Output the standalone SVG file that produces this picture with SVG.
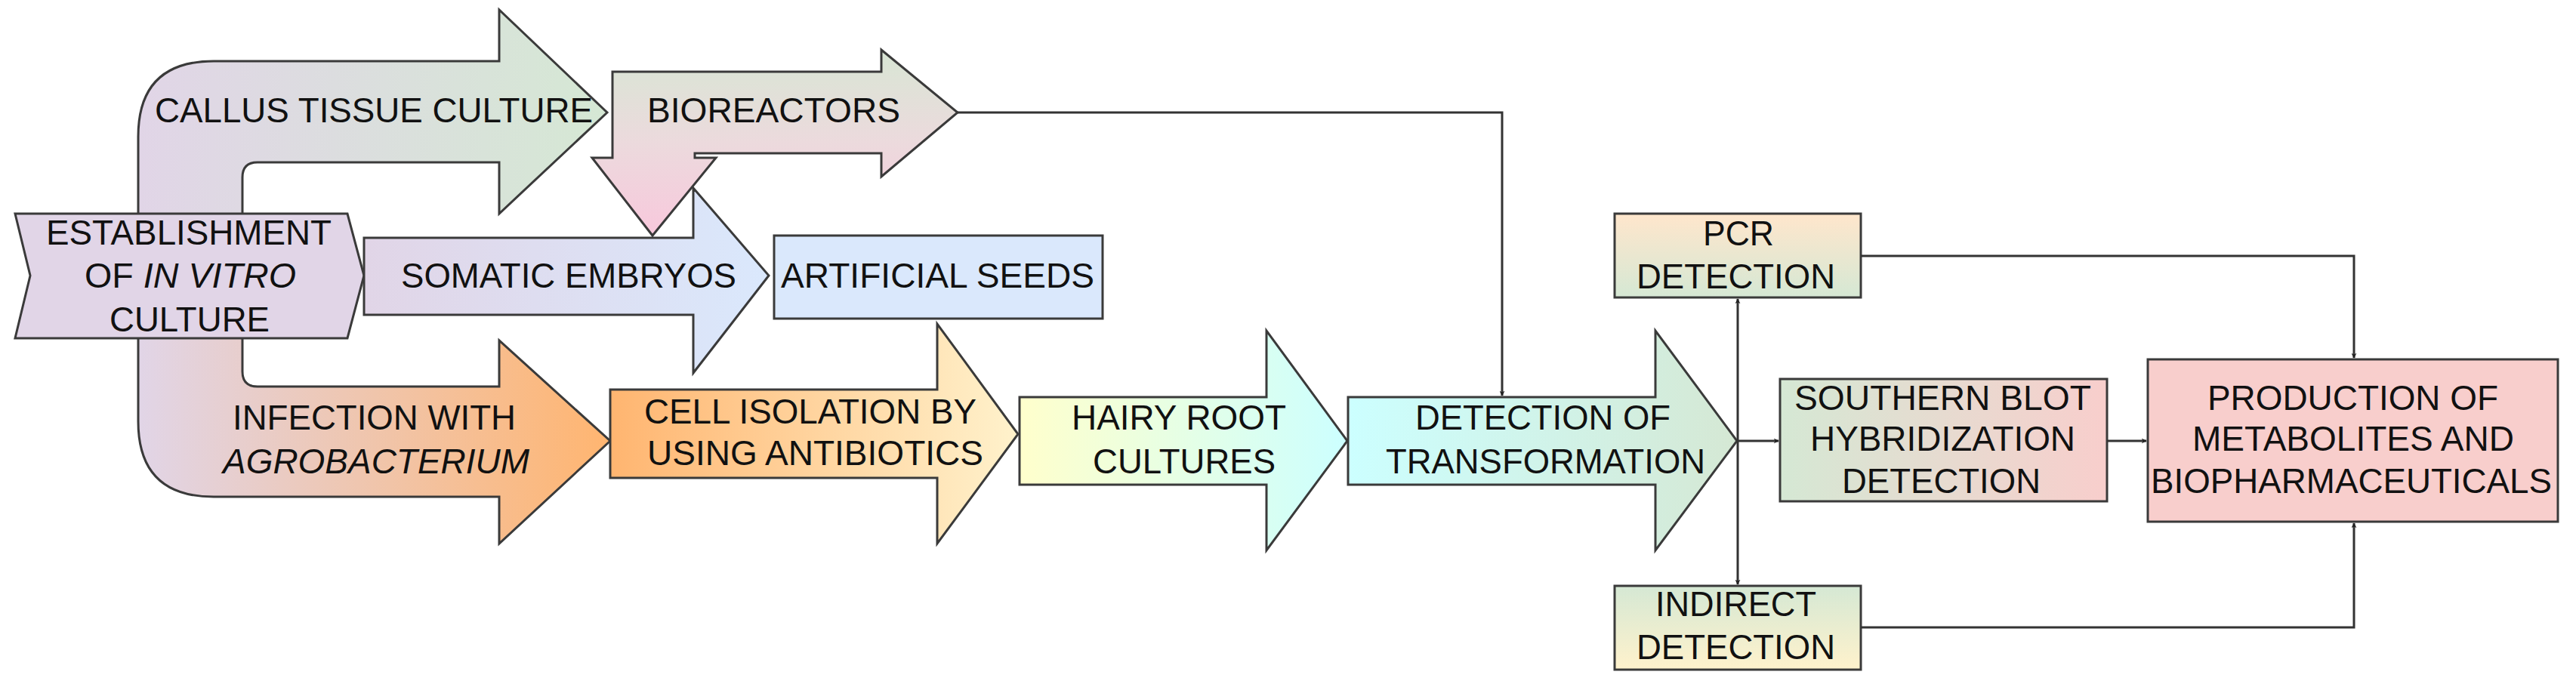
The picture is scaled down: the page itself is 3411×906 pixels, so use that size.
<svg xmlns="http://www.w3.org/2000/svg" width="3411" height="906" viewBox="0 0 3411 906">
<style>
.s{stroke:#3a3a3a;stroke-width:3;stroke-linejoin:miter}
.t{font-family:"Liberation Sans",Arial,sans-serif;font-size:46px;fill:#111;text-anchor:start}
.c{stroke:#333;stroke-width:3;fill:none}
</style>
<defs>
<linearGradient id="gTop" x1="183" y1="0" x2="804" y2="0" gradientUnits="userSpaceOnUse"><stop offset="0" stop-color="#e1d5e7"/><stop offset="1" stop-color="#d5e8d4"/></linearGradient>
<linearGradient id="gBot" x1="183" y1="0" x2="808" y2="0" gradientUnits="userSpaceOnUse"><stop offset="0" stop-color="#e1d5e7"/><stop offset="1" stop-color="#ffb570"/></linearGradient>
<linearGradient id="gSom" x1="0" y1="0" x2="1" y2="0"><stop offset="0" stop-color="#e1d5e7"/><stop offset="1" stop-color="#dae8fc"/></linearGradient>
<linearGradient id="gBio" x1="0" y1="0" x2="0" y2="1"><stop offset="0" stop-color="#d8e6d4"/><stop offset="0.5" stop-color="#ecdadd"/><stop offset="1" stop-color="#f8c8dc"/></linearGradient>
<linearGradient id="gCell" x1="0" y1="0" x2="1" y2="0"><stop offset="0" stop-color="#ffb570"/><stop offset="1" stop-color="#fff2cc"/></linearGradient>
<linearGradient id="gHair" x1="0" y1="0" x2="1" y2="0"><stop offset="0" stop-color="#ffffcc"/><stop offset="1" stop-color="#ccffff"/></linearGradient>
<linearGradient id="gDet" x1="0" y1="0" x2="1" y2="0"><stop offset="0" stop-color="#ccffff"/><stop offset="1" stop-color="#d5e8d4"/></linearGradient>
<linearGradient id="gPcr" x1="0" y1="0" x2="0" y2="1"><stop offset="0" stop-color="#ffe6cc"/><stop offset="1" stop-color="#d5e8d4"/></linearGradient>
<linearGradient id="gInd" x1="0" y1="0" x2="0" y2="1"><stop offset="0" stop-color="#d5e8d4"/><stop offset="1" stop-color="#fff2cc"/></linearGradient>
<linearGradient id="gSou" x1="0" y1="0" x2="1" y2="0"><stop offset="0" stop-color="#d5e8d4"/><stop offset="1" stop-color="#f8cecc"/></linearGradient>
<clipPath id="cTop"><rect x="0" y="0" width="900" height="370"/></clipPath>
<clipPath id="cBot"><rect x="0" y="370" width="900" height="536"/></clipPath>
<marker id="ah" viewBox="0 0 10 10" refX="9" refY="5" markerWidth="7" markerHeight="7" orient="auto-start-reverse" markerUnits="userSpaceOnUse"><path d="M0,0 L10,5 L0,10 L3,5 Z" fill="#222"/></marker>
</defs>
<rect width="3411" height="906" fill="#fff"/>

<g id="callus-infection">
<path id="bigp" d="M661,81 L661,13 L804,149 L661,283 L661,215 L341,215 Q321,215 321,235 L321,492 Q321,512 341,512 L661,512 L661,451 L808,584 L661,720 L661,658 L283,658 Q183,658 183,558 L183,181 Q183,81 283,81 Z" fill="url(#gTop)" clip-path="url(#cTop)"/>
<path d="M661,81 L661,13 L804,149 L661,283 L661,215 L341,215 Q321,215 321,235 L321,492 Q321,512 341,512 L661,512 L661,451 L808,584 L661,720 L661,658 L283,658 Q183,658 183,558 L183,181 Q183,81 283,81 Z" fill="url(#gBot)" clip-path="url(#cBot)"/>
<path class="s" fill="none" d="M661,81 L661,13 L804,149 L661,283 L661,215 L341,215 Q321,215 321,235 L321,492 Q321,512 341,512 L661,512 L661,451 L808,584 L661,720 L661,658 L283,658 Q183,658 183,558 L183,181 Q183,81 283,81 Z"/>
<text class="t" x="205" y="162" textLength="580" lengthAdjust="spacingAndGlyphs">CALLUS TISSUE CULTURE</text>
<text class="t" x="308" y="569" textLength="375" lengthAdjust="spacingAndGlyphs">INFECTION WITH</text>
<text class="t" x="295" y="627" textLength="406" lengthAdjust="spacingAndGlyphs" font-style="italic">AGROBACTERIUM</text>
</g>

<g id="establishment">
<path class="s" fill="#e1d5e7" d="M20,283 L460,283 L482,365 L460,448 L20,448 L40,365 Z"/>
<text class="t" x="61" y="324" textLength="378" lengthAdjust="spacingAndGlyphs">ESTABLISHMENT</text>
<text class="t" x="112" y="381" textLength="280" lengthAdjust="spacingAndGlyphs">OF <tspan font-style="italic">IN VITRO</tspan></text>
<text class="t" x="145" y="439" textLength="212" lengthAdjust="spacingAndGlyphs">CULTURE</text>
</g>

<g id="somatic">
<path class="s" fill="url(#gSom)" d="M482,315 L918,315 L918,249 L1018,365 L918,494 L918,417 L482,417 Z"/>
<text class="t" x="531" y="381" textLength="444" lengthAdjust="spacingAndGlyphs">SOMATIC EMBRYOS</text>
</g>

<g id="bioreactors">
<path class="s" fill="url(#gBio)" d="M811,95 L1167,95 L1167,66 L1268,149 L1167,234 L1167,203 L920,203 L920,209 L948,209 L864,312 L784,209 L811,209 Z"/>
<text class="t" x="857" y="162" textLength="335" lengthAdjust="spacingAndGlyphs">BIOREACTORS</text>
</g>

<g id="seeds">
<rect class="s" fill="#dae8fc" x="1025" y="312" width="435" height="110"/>
<text class="t" x="1034" y="381" textLength="415" lengthAdjust="spacingAndGlyphs">ARTIFICIAL SEEDS</text>
</g>

<g id="cell">
<path class="s" fill="url(#gCell)" d="M808,516 L1241,516 L1241,429 L1348,575 L1241,720 L1241,633 L808,633 Z"/>
<text class="t" x="853" y="561" textLength="440" lengthAdjust="spacingAndGlyphs">CELL ISOLATION BY</text>
<text class="t" x="857" y="616" textLength="445" lengthAdjust="spacingAndGlyphs">USING ANTIBIOTICS</text>
</g>

<g id="hairy">
<path class="s" fill="url(#gHair)" d="M1350,526 L1677,526 L1677,438 L1784,584 L1677,729 L1677,642 L1350,642 Z"/>
<text class="t" x="1419" y="569" textLength="284" lengthAdjust="spacingAndGlyphs">HAIRY ROOT</text>
<text class="t" x="1447" y="627" textLength="242" lengthAdjust="spacingAndGlyphs">CULTURES</text>
</g>

<g id="detection">
<path class="s" fill="url(#gDet)" d="M1785,526 L2192,526 L2192,438 L2300,584 L2192,729 L2192,642 L1785,642 Z"/>
<text class="t" x="1874" y="569" textLength="338" lengthAdjust="spacingAndGlyphs">DETECTION OF</text>
<text class="t" x="1835" y="627" textLength="423" lengthAdjust="spacingAndGlyphs">TRANSFORMATION</text>
</g>

<g id="pcr">
<rect class="s" fill="url(#gPcr)" x="2138" y="283" width="326" height="111"/>
<text class="t" x="2255" y="325" textLength="94" lengthAdjust="spacingAndGlyphs">PCR</text>
<text class="t" x="2167" y="382" textLength="263" lengthAdjust="spacingAndGlyphs">DETECTION</text>
</g>

<g id="indirect">
<rect class="s" fill="url(#gInd)" x="2138" y="776" width="326" height="111"/>
<text class="t" x="2192" y="816" textLength="213" lengthAdjust="spacingAndGlyphs">INDIRECT</text>
<text class="t" x="2167" y="873" textLength="263" lengthAdjust="spacingAndGlyphs">DETECTION</text>
</g>

<g id="southern">
<rect class="s" fill="url(#gSou)" x="2357" y="502" width="433" height="162"/>
<text class="t" x="2376" y="543" textLength="393" lengthAdjust="spacingAndGlyphs">SOUTHERN BLOT</text>
<text class="t" x="2397" y="597" textLength="351" lengthAdjust="spacingAndGlyphs">HYBRIDIZATION</text>
<text class="t" x="2439" y="653" textLength="263" lengthAdjust="spacingAndGlyphs">DETECTION</text>
</g>

<g id="production">
<rect class="s" fill="#f8cecc" x="2844" y="476" width="543" height="215"/>
<text class="t" x="2923" y="543" textLength="385" lengthAdjust="spacingAndGlyphs">PRODUCTION OF</text>
<text class="t" x="2903" y="597" textLength="426" lengthAdjust="spacingAndGlyphs">METABOLITES AND</text>
<text class="t" x="2848" y="653" textLength="531" lengthAdjust="spacingAndGlyphs">BIOPHARMACEUTICALS</text>
</g>

<g id="connectors">
<path class="c" d="M1268,149 L1989,149 L1989,524" marker-end="url(#ah)"/>
<path class="c" d="M2301,396 L2301,774" marker-start="url(#ah)" marker-end="url(#ah)"/>
<path class="c" d="M2300,584 L2355,584" marker-end="url(#ah)"/>
<path class="c" d="M2790,584 L2842,584" marker-end="url(#ah)"/>
<path class="c" d="M2464,339 L3117,339 L3117,474" marker-end="url(#ah)"/>
<path class="c" d="M2464,831 L3117,831 L3117,693" marker-end="url(#ah)"/>
</g>
</svg>
